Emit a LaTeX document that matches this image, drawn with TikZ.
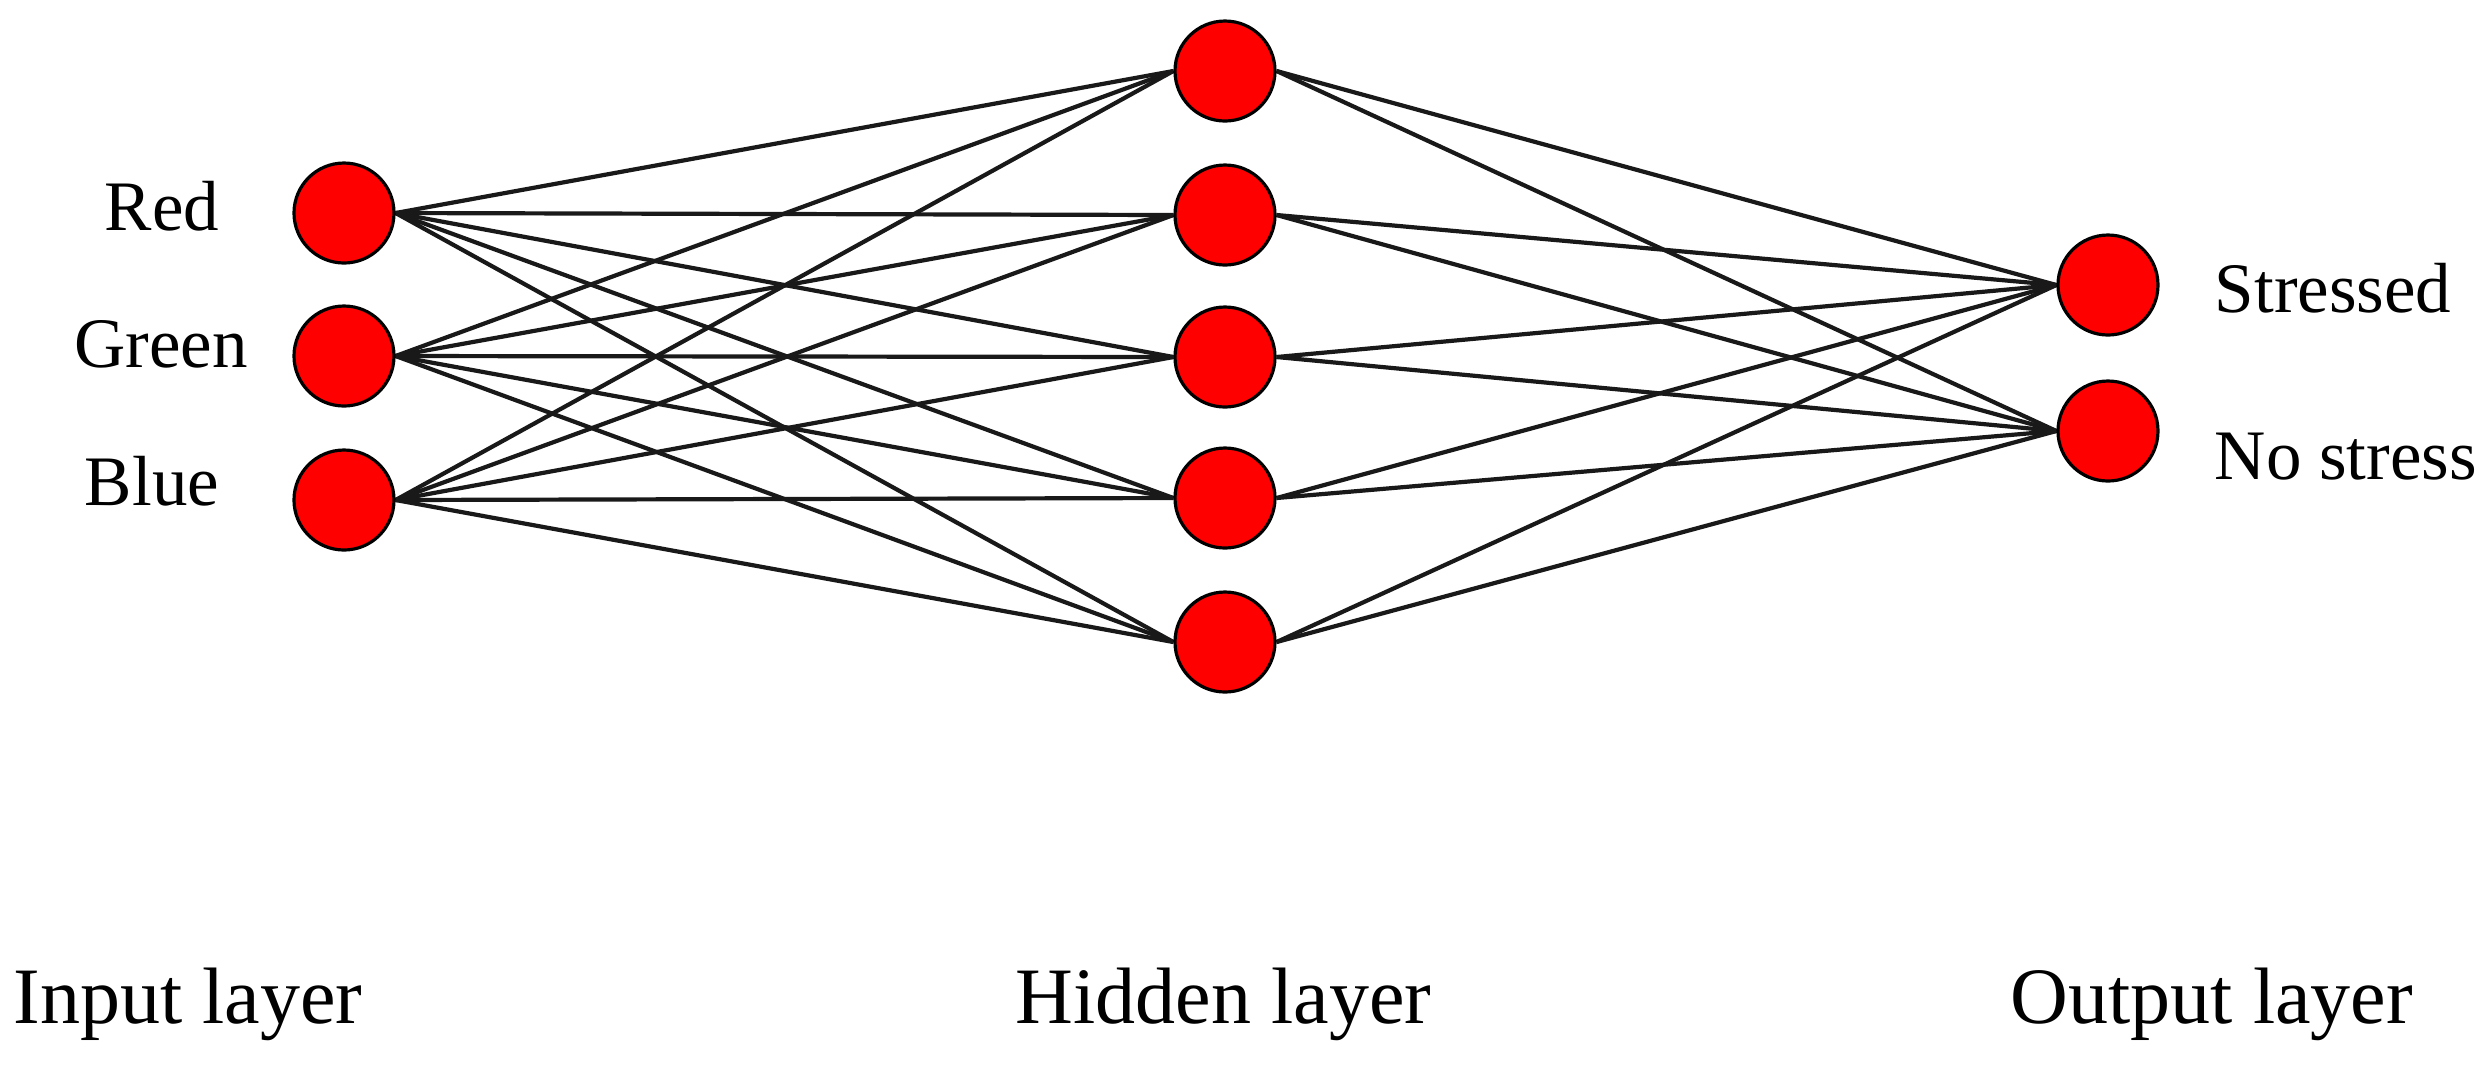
\documentclass[tikz,border=0pt]{standalone}
\usepackage{fontspec}
\setmainfont{Liberation Serif}
\usetikzlibrary{backgrounds}
\begin{document}
\begin{tikzpicture}[x=0.25pt,y=-0.25pt,
  neuron/.style={circle,draw=black,fill=red,line width=0.8pt,minimum size=25pt,inner sep=0pt},
  conn/.style={draw=black!90,line width=1.05pt},
  lbl/.style={font=\fontsize{17.75pt}{20pt}\selectfont,inner sep=0pt,anchor=base},
  lyr/.style={font=\fontsize{20pt}{24pt}\selectfont,inner sep=0pt,anchor=base west}]
\useasboundingbox (0,0) rectangle (2488,1064);
% input
\node[neuron] (i1) at (344,213) {};
\node[neuron] (i2) at (344,356) {};
\node[neuron] (i3) at (344,500) {};
% hidden
\node[neuron] (h1) at (1225,71) {};
\node[neuron] (h2) at (1225,215) {};
\node[neuron] (h3) at (1225,357) {};
\node[neuron] (h4) at (1225,498) {};
\node[neuron] (h5) at (1225,642) {};
% output
\node[neuron] (o1) at (2108,285) {};
\node[neuron] (o2) at (2108,431) {};
% connectors
\begin{scope}[on background layer]
\foreach \i in {1,2,3}{\foreach \h in {1,...,5}{\path[conn] (i\i.east) -- (h\h.west);}}
\foreach \h in {1,...,5}{\foreach \o in {1,2}{\path[conn] (h\h.east) -- (o\o.west);}}
\end{scope}
% labels
\node[lbl] (lr) at (162,230) {Red};
\node[lbl] (lg) at (161,367) {Green};
\node[lbl] (lb) at (152,505) {Blue};
\node[lbl,anchor=base west] (ls) at (2214,312) {Stressed};
\node[lbl,anchor=base west] (ln) at (2214,479) {No stress};
\node[lyr] (li) at (13,1023) {Input layer};
\node[lyr] (lh) at (1015,1023) {Hidden layer};
\node[lyr] (lo) at (2010,1023) {Output layer};
\end{tikzpicture}
\end{document}
